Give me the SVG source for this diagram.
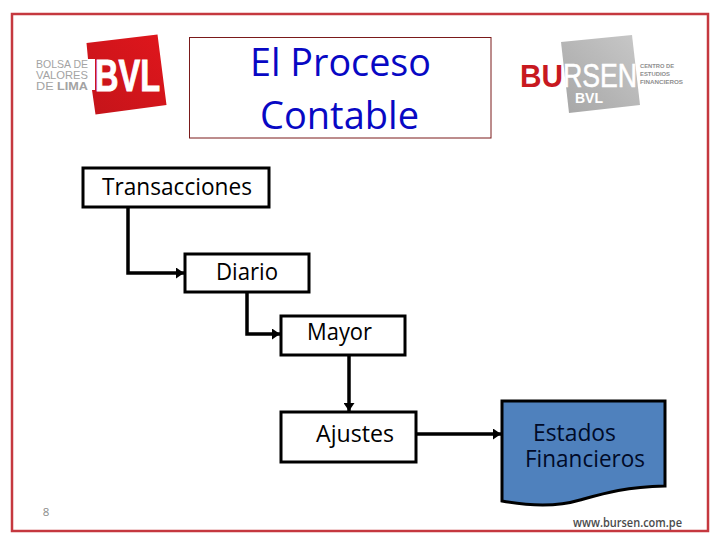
<svg xmlns="http://www.w3.org/2000/svg" width="720" height="540" viewBox="0 0 720 540">
<defs>
<marker id="arrow" markerUnits="userSpaceOnUse" markerWidth="9" markerHeight="11" refX="8" refY="5.500" orient="auto"><path d="M0 0L8 5.500L0 11Z" fill="#000"/></marker>
<linearGradient id="g1" x1="0" y1="1" x2="1" y2="0"><stop offset="0" stop-color="#c4141a"/><stop offset="1" stop-color="#e0161c"/></linearGradient>
<linearGradient id="g2" x1="0" y1="1" x2="1" y2="0"><stop offset="0" stop-color="#a6a6a6"/><stop offset="1" stop-color="#c8c8c8"/></linearGradient>
</defs>
<style>
text{font-family:"Open Sans","Noto Sans","Liberation Sans",sans-serif}
.box{fill:#fff;stroke:#000;stroke-width:3}
.lbl{font-size:23px;fill:#000}
.conn{fill:none;stroke:#000;stroke-width:3.500;marker-end:url(#arrow)}
.logo{font-family:"Liberation Sans",sans-serif}
</style>
<rect width="720" height="540" fill="#fff"/>
<rect id="frame" x="12" y="14" width="696" height="517" fill="none" stroke="#c5383f" stroke-width="2.500"/>
<g id="logo-bvl">
<path d="M86.500 43L157.500 34.500L166.500 105L95.500 114.500L92 90H95V59H88Z" fill="url(#g1)"/>
<text class="logo" x="36" y="68" font-size="11" fill="#a3a3a3" textLength="52" lengthAdjust="spacingAndGlyphs">BOLSA DE</text>
<text class="logo" x="36" y="79" font-size="11" fill="#a3a3a3" textLength="52" lengthAdjust="spacingAndGlyphs">VALORES</text>
<text class="logo" x="36" y="90" font-size="11" fill="#a3a3a3" textLength="52" lengthAdjust="spacingAndGlyphs">DE <tspan font-weight="bold">LIMA</tspan></text>
<text class="logo" x="95" y="90.500" font-size="45" font-weight="bold" fill="#fff" stroke="#fff" stroke-width="1" textLength="65" lengthAdjust="spacingAndGlyphs">BVL</text>
</g>
<g id="title">
<rect x="189.500" y="37.500" width="301.500" height="100.500" fill="#fff" stroke="#7a1a1a" stroke-width="1"/>
<text x="340.500" y="76" font-size="38" fill="#0808c4" text-anchor="middle" textLength="181" lengthAdjust="spacingAndGlyphs">El Proceso</text>
<text x="339.500" y="129" font-size="38" fill="#0808c4" text-anchor="middle" textLength="159" lengthAdjust="spacingAndGlyphs">Contable</text>
</g>
<g id="logo-bursen">
<path d="M561 42L632 35L640 105L569 113Z" fill="url(#g2)"/>
<text class="logo" x="520" y="87" font-size="32" font-weight="bold" fill="#c8191f" textLength="43" lengthAdjust="spacingAndGlyphs">BU</text>
<text class="logo" x="563" y="87" font-size="34" fill="#fff" stroke="#fff" stroke-width=".6" textLength="74" lengthAdjust="spacingAndGlyphs">RSEN</text>
<text class="logo" x="575" y="103" font-size="15.500" font-weight="bold" fill="#fff" textLength="28" lengthAdjust="spacingAndGlyphs">BVL</text>
<text class="logo" x="640" y="68" font-size="6" font-weight="bold" fill="#8e8e8e" textLength="34" lengthAdjust="spacingAndGlyphs">CENTRO DE</text>
<text class="logo" x="640" y="76" font-size="6" font-weight="bold" fill="#8e8e8e" textLength="30" lengthAdjust="spacingAndGlyphs">ESTUDIOS</text>
<text class="logo" x="640" y="84" font-size="6" font-weight="bold" fill="#8e8e8e" textLength="43" lengthAdjust="spacingAndGlyphs">FINANCIEROS</text>
</g>
<g id="connectors">
<path class="conn" d="M128 208V273H184"/>
<path class="conn" d="M247 293V334H280"/>
<path class="conn" d="M349 356V411"/>
<path class="conn" d="M417 434H501"/>
</g>
<g id="transacciones">
<rect class="box" x="83" y="168" width="186" height="39"/>
<text class="lbl" x="177" y="195" text-anchor="middle" textLength="150" lengthAdjust="spacingAndGlyphs">Transacciones</text>
</g>
<g id="diario">
<rect class="box" x="185" y="254" width="124" height="38"/>
<text class="lbl" x="247" y="280" text-anchor="middle" textLength="62" lengthAdjust="spacingAndGlyphs">Diario</text>
</g>
<g id="mayor">
<rect class="box" x="281" y="316" width="124" height="39"/>
<text class="lbl" x="339.500" y="340" text-anchor="middle" textLength="65" lengthAdjust="spacingAndGlyphs">Mayor</text>
</g>
<g id="ajustes">
<rect class="box" x="281" y="412" width="135" height="50"/>
<text class="lbl" x="355" y="442" text-anchor="middle" textLength="78" lengthAdjust="spacingAndGlyphs">Ajustes</text>
</g>
<g id="estados">
<path d="M502 401H665V486C625 487 605 493 580 500C560 506 535 507 502 501Z" fill="#4f81bd" stroke="#000" stroke-width="3"/>
<text x="574.500" y="441" font-size="23" fill="#000a28" text-anchor="middle" textLength="83" lengthAdjust="spacingAndGlyphs">Estados</text>
<text x="585" y="467" font-size="23" fill="#000a28" text-anchor="middle" textLength="120" lengthAdjust="spacingAndGlyphs">Financieros</text>
</g>
<text id="page" x="46" y="516" font-size="11.500" fill="#8a8a8a" text-anchor="middle">8</text>
<text id="url" x="573" y="527" font-size="12.500" font-weight="600" fill="#4a4a4a" textLength="109" lengthAdjust="spacingAndGlyphs">www.bursen.com.pe</text>
</svg>
